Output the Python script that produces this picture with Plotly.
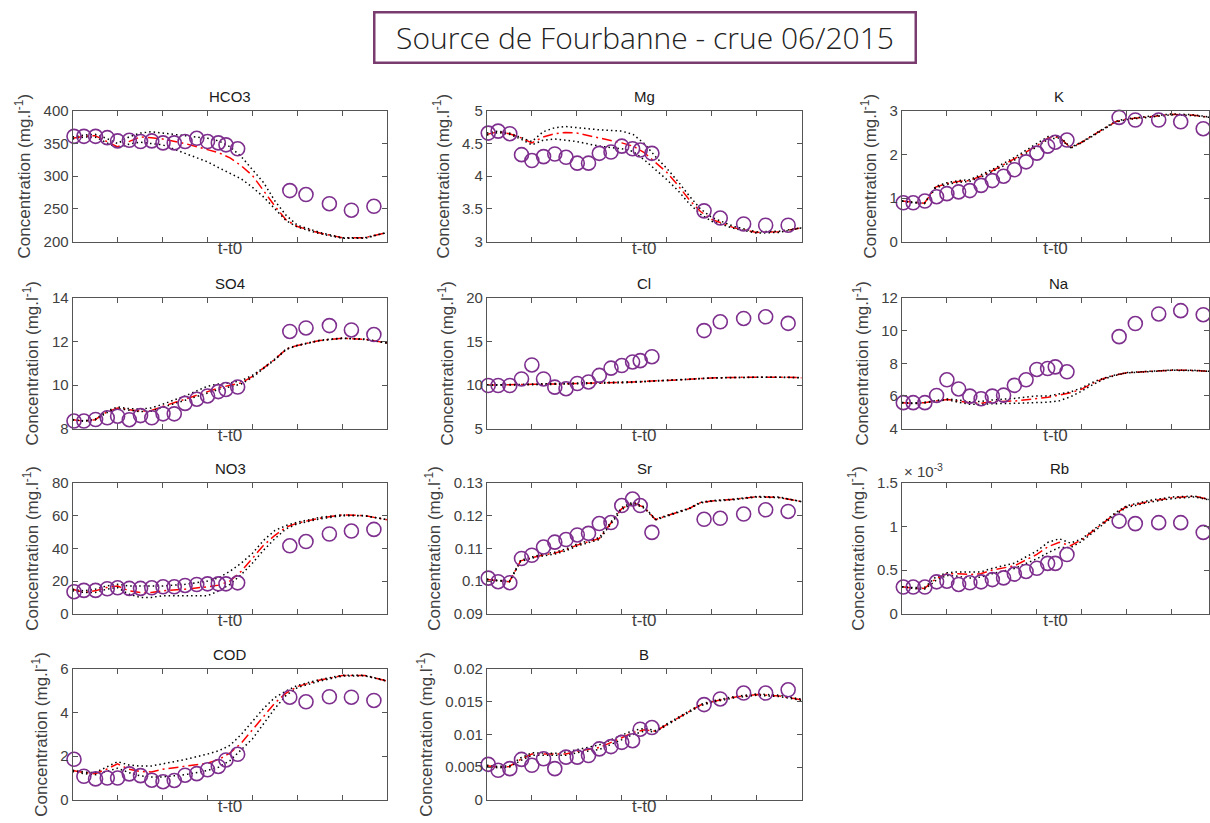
import plotly.graph_objects as go

W, H = 1210, 823

# ---------------- data ----------------
t_obs = [0.03, 0.25, 0.51, 0.77, 1.0, 1.26, 1.51, 1.76, 2.01, 2.26, 2.5, 2.76, 3.0, 3.24, 3.41, 3.67, 4.83, 5.19, 5.71, 6.2, 6.7]
t_mod = [0, 0.25, 0.5, 0.75, 1.0, 1.25, 1.5, 1.75, 2.0, 2.5, 3.0, 3.25, 3.5, 3.75, 4.0, 4.25, 4.5, 4.75, 5.0, 5.5, 6.0, 6.5, 7.0]

panel_names = ["HCO3", "Mg", "K", "SO4", "Cl", "Na", "NO3", "Sr", "Rb", "COD", "B"]

hco3_obs = [361, 361, 361, 359, 354, 355, 353, 354, 351, 351, 353, 358, 353, 351, 348, 342, 278, 272, 258, 248, 254]
hco3_mod = [358, 361, 362, 354, 345, 353, 360, 359, 357, 350, 341, 336, 328, 316, 301, 278, 254, 233, 223, 213, 206, 206, 214]
hco3_up = [360, 363, 364, 358, 350, 360, 366, 368, 366, 362, 358, 354, 345, 330, 310, 290, 262, 240, 225, 214, 206, 206, 214]
hco3_lo = [357, 360, 360, 352, 343, 349, 352, 350, 348, 335, 322, 313, 305, 296, 283, 268, 250, 232, 222, 212, 205, 205, 214]

mg_obs = [4.66, 4.69, 4.65, 4.33, 4.24, 4.30, 4.34, 4.29, 4.20, 4.20, 4.35, 4.37, 4.46, 4.42, 4.40, 4.35, 3.47, 3.36, 3.27, 3.25, 3.25]
mg_mod = [4.64, 4.68, 4.65, 4.59, 4.51, 4.60, 4.65, 4.67, 4.66, 4.59, 4.51, 4.46, 4.36, 4.21, 4.06, 3.86, 3.64, 3.46, 3.34, 3.21, 3.14, 3.15, 3.21]
mg_up = [4.66, 4.69, 4.66, 4.60, 4.53, 4.68, 4.74, 4.76, 4.74, 4.71, 4.69, 4.64, 4.50, 4.30, 4.12, 3.92, 3.70, 3.50, 3.37, 3.23, 3.15, 3.16, 3.21]
mg_lo = [4.63, 4.67, 4.64, 4.57, 4.48, 4.55, 4.57, 4.55, 4.53, 4.46, 4.42, 4.38, 4.25, 4.10, 3.95, 3.78, 3.58, 3.42, 3.31, 3.20, 3.13, 3.14, 3.21]

k_obs = [0.89, 0.89, 0.93, 1.03, 1.10, 1.14, 1.17, 1.29, 1.40, 1.50, 1.65, 1.83, 2.03, 2.19, 2.28, 2.33, 2.85, 2.79, 2.79, 2.75, 2.59]
k_mod = [0.93, 0.90, 0.88, 1.25, 1.33, 1.38, 1.40, 1.50, 1.62, 1.90, 2.20, 2.38, 2.40, 2.15, 2.28, 2.44, 2.60, 2.75, 2.81, 2.87, 2.92, 2.90, 2.83]
k_up = [0.93, 0.90, 0.88, 1.27, 1.35, 1.40, 1.42, 1.53, 1.65, 1.93, 2.24, 2.41, 2.42, 2.16, 2.29, 2.45, 2.61, 2.76, 2.82, 2.88, 2.93, 2.91, 2.83]
k_lo = [0.93, 0.89, 0.87, 1.23, 1.31, 1.36, 1.38, 1.48, 1.60, 1.87, 2.17, 2.35, 2.38, 2.14, 2.27, 2.43, 2.59, 2.74, 2.80, 2.86, 2.91, 2.89, 2.83]

so4_obs = [8.35, 8.35, 8.42, 8.50, 8.57, 8.41, 8.60, 8.50, 8.68, 8.68, 9.16, 9.35, 9.50, 9.70, 9.80, 9.91, 12.46, 12.62, 12.73, 12.53, 12.32]
so4_mod = [8.41, 8.35, 8.41, 8.75, 8.95, 8.87, 8.80, 8.83, 9.02, 9.35, 9.72, 9.87, 9.99, 10.10, 10.40, 10.77, 11.18, 11.65, 11.82, 12.05, 12.15, 12.10, 11.93]
so4_up = [8.42, 8.36, 8.43, 8.80, 9.00, 8.92, 8.90, 8.95, 9.12, 9.50, 9.95, 10.05, 10.10, 10.20, 10.45, 10.80, 11.20, 11.66, 11.83, 12.06, 12.16, 12.11, 11.93]
so4_lo = [8.40, 8.34, 8.40, 8.72, 8.92, 8.85, 8.78, 8.80, 8.98, 9.30, 9.65, 9.80, 9.92, 10.05, 10.36, 10.74, 11.16, 11.63, 11.81, 12.04, 12.14, 12.09, 11.93]

cl_obs = [9.95, 9.95, 9.95, 10.7, 12.31, 10.7, 9.76, 9.58, 10.18, 10.36, 11.11, 11.94, 12.24, 12.65, 12.80, 13.25, 16.25, 17.26, 17.64, 17.83, 17.08]
cl_mod = [10.0, 10.0, 10.02, 10.05, 10.08, 10.1, 10.12, 10.14, 10.17, 10.22, 10.3, 10.35, 10.4, 10.45, 10.5, 10.58, 10.66, 10.74, 10.82, 10.88, 10.92, 10.9, 10.85]
cl_up = [10.02, 10.02, 10.04, 10.08, 10.12, 10.14, 10.16, 10.18, 10.21, 10.26, 10.34, 10.39, 10.43, 10.48, 10.53, 10.61, 10.69, 10.76, 10.84, 10.89, 10.93, 10.91, 10.86]
cl_lo = [9.98, 9.98, 10.0, 10.02, 10.04, 10.06, 10.08, 10.1, 10.13, 10.18, 10.26, 10.31, 10.37, 10.42, 10.47, 10.55, 10.63, 10.72, 10.8, 10.87, 10.91, 10.89, 10.84]

na_obs = [5.59, 5.59, 5.59, 6.03, 6.99, 6.43, 5.99, 5.83, 5.99, 6.05, 6.65, 6.99, 7.62, 7.68, 7.78, 7.48, 9.63, 10.43, 11.02, 11.22, 10.97]
na_mod = [5.59, 5.55, 5.59, 5.69, 5.79, 5.69, 5.59, 5.55, 5.65, 5.69, 5.85, 5.92, 6.05, 6.20, 6.42, 6.79, 7.08, 7.28, 7.42, 7.52, 7.58, 7.56, 7.48]
na_up = [5.60, 5.57, 5.61, 5.72, 5.82, 5.75, 5.65, 5.66, 5.75, 5.85, 6.00, 6.00, 6.12, 6.25, 6.50, 6.85, 7.10, 7.29, 7.43, 7.53, 7.59, 7.57, 7.48]
na_lo = [5.58, 5.53, 5.57, 5.66, 5.77, 5.62, 5.50, 5.48, 5.52, 5.55, 5.60, 5.62, 5.70, 5.95, 6.30, 6.70, 7.04, 7.26, 7.41, 7.51, 7.57, 7.55, 7.48]

no3_obs = [13.5, 14.3, 14.3, 15.3, 15.9, 15.5, 15.5, 15.9, 16.5, 16.5, 17.3, 17.9, 18.3, 18.3, 18.3, 18.9, 41.6, 44.2, 48.8, 50.6, 51.6]
no3_mod = [15, 13, 14, 16, 17, 14, 13, 13, 14, 15, 16.5, 17.5, 20, 26, 34, 42, 48, 53, 55.5, 58.5, 60.5, 60, 57.5]
no3_up = [15, 14, 15, 17, 18, 17, 17, 17, 17, 18, 20, 22, 26, 31, 37, 45, 51, 54, 56, 59, 60.5, 60, 57.5]
no3_lo = [14, 13, 13, 15, 16, 12, 10, 10, 11, 11, 11, 14, 18, 24, 31, 39, 46, 52, 55, 58, 60, 60, 57.5]

sr_obs = [0.1009, 0.0998, 0.0995, 0.1069, 0.1079, 0.1104, 0.1119, 0.1127, 0.1141, 0.1146, 0.1176, 0.1179, 0.1231, 0.1251, 0.1231, 0.1149, 0.1189, 0.1192, 0.1205, 0.1218, 0.1213]
sr_mod = [0.1005, 0.1002, 0.0998, 0.1062, 0.1072, 0.1080, 0.1085, 0.1095, 0.1110, 0.1130, 0.1222, 0.1240, 0.1225, 0.1188, 0.1200, 0.1210, 0.1222, 0.1240, 0.1245, 0.1250, 0.1258, 0.1256, 0.1243]
sr_up = [0.1006, 0.1003, 0.0999, 0.1064, 0.1074, 0.1083, 0.1088, 0.1098, 0.1113, 0.1133, 0.1225, 0.1242, 0.1227, 0.1189, 0.1201, 0.1211, 0.1223, 0.1241, 0.1246, 0.1251, 0.1259, 0.1257, 0.1243]
sr_lo = [0.1004, 0.1001, 0.0997, 0.1060, 0.1070, 0.1077, 0.1082, 0.1092, 0.1107, 0.1127, 0.1219, 0.1238, 0.1223, 0.1187, 0.1199, 0.1209, 0.1221, 0.1239, 0.1244, 0.1249, 0.1257, 0.1255, 0.1243]

rb_obs = [0.306e-3, 0.306e-3, 0.306e-3, 0.366e-3, 0.373e-3, 0.336e-3, 0.355e-3, 0.366e-3, 0.392e-3, 0.411e-3, 0.455e-3, 0.485e-3, 0.522e-3, 0.578e-3, 0.578e-3, 0.679e-3, 1.063e-3, 1.034e-3, 1.045e-3, 1.045e-3, 0.933e-3]
rb_mod = [0.31e-3, 0.295e-3, 0.29e-3, 0.40e-3, 0.46e-3, 0.46e-3, 0.45e-3, 0.46e-3, 0.50e-3, 0.55e-3, 0.68e-3, 0.77e-3, 0.82e-3, 0.78e-3, 0.85e-3, 0.95e-3, 1.05e-3, 1.15e-3, 1.23e-3, 1.29e-3, 1.33e-3, 1.35e-3, 1.29e-3]
rb_up = [0.31e-3, 0.30e-3, 0.30e-3, 0.42e-3, 0.47e-3, 0.48e-3, 0.48e-3, 0.48e-3, 0.52e-3, 0.58e-3, 0.72e-3, 0.82e-3, 0.86e-3, 0.81e-3, 0.86e-3, 0.96e-3, 1.06e-3, 1.16e-3, 1.24e-3, 1.30e-3, 1.34e-3, 1.35e-3, 1.29e-3]
rb_lo = [0.31e-3, 0.29e-3, 0.28e-3, 0.38e-3, 0.44e-3, 0.43e-3, 0.41e-3, 0.42e-3, 0.46e-3, 0.52e-3, 0.63e-3, 0.70e-3, 0.76e-3, 0.76e-3, 0.83e-3, 0.93e-3, 1.04e-3, 1.14e-3, 1.22e-3, 1.28e-3, 1.32e-3, 1.34e-3, 1.29e-3]

cod_obs = [1.86, 1.08, 0.96, 1.0, 1.0, 1.19, 1.11, 0.9, 0.83, 0.89, 1.13, 1.2, 1.38, 1.53, 1.83, 2.09, 4.71, 4.50, 4.73, 4.71, 4.56]
cod_mod = [1.35, 1.25, 1.2, 1.4, 1.65, 1.4, 1.3, 1.28, 1.4, 1.55, 1.68, 1.85, 2.15, 2.6, 3.2, 3.85, 4.45, 4.9, 5.2, 5.5, 5.7, 5.7, 5.45]
cod_up = [1.36, 1.27, 1.25, 1.5, 1.75, 1.6, 1.55, 1.55, 1.65, 1.85, 2.1, 2.25, 2.5, 3.0, 3.6, 4.2, 4.7, 5.0, 5.25, 5.52, 5.72, 5.71, 5.46]
cod_lo = [1.3, 1.2, 1.15, 1.3, 1.45, 1.25, 1.1, 1.05, 1.05, 1.15, 1.35, 1.5, 1.8, 2.3, 2.8, 3.5, 4.2, 4.8, 5.15, 5.45, 5.68, 5.69, 5.44]

b_obs = [0.00543, 0.00452, 0.00477, 0.00618, 0.00528, 0.00628, 0.00477, 0.00653, 0.00653, 0.00678, 0.00779, 0.00814, 0.00879, 0.00904, 0.0108, 0.01106, 0.01457, 0.01543, 0.01633, 0.01633, 0.01683]
b_mod = [0.0052, 0.0050, 0.0051, 0.0062, 0.0070, 0.0070, 0.0069, 0.0070, 0.0074, 0.0080, 0.0095, 0.0103, 0.0107, 0.0105, 0.0115, 0.0125, 0.0135, 0.0145, 0.0150, 0.0157, 0.0161, 0.0159, 0.0153]
b_up = [0.0053, 0.0051, 0.0052, 0.0064, 0.0072, 0.0072, 0.0071, 0.0073, 0.0077, 0.0084, 0.0099, 0.0106, 0.0109, 0.0106, 0.0116, 0.0126, 0.0136, 0.0146, 0.0151, 0.0158, 0.0162, 0.0160, 0.0154]
b_lo = [0.0051, 0.0049, 0.0050, 0.0060, 0.0068, 0.0068, 0.0067, 0.0068, 0.0072, 0.0077, 0.0092, 0.0100, 0.0105, 0.0104, 0.0114, 0.0124, 0.0134, 0.0144, 0.0149, 0.0156, 0.0160, 0.0158, 0.0152]

# y-axis ranges, tick values and tick labels
y_ranges = [[200, 400], [3, 5], [0, 3], [8, 14], [5, 20], [4, 12], [0, 80], [0.09, 0.13], [0, 1.5e-3], [0, 6], [0, 0.02]]
y_tickvals = [
    [200, 250, 300, 350, 400], [3, 3.5, 4, 4.5, 5], [0, 1, 2, 3], [8, 10, 12, 14], [5, 10, 15, 20],
    [4, 6, 8, 10, 12], [0, 20, 40, 60, 80], [0.09, 0.1, 0.11, 0.12, 0.13], [0, 0.5e-3, 1e-3, 1.5e-3],
    [0, 2, 4, 6], [0, 0.005, 0.01, 0.015, 0.02]]
y_ticktext = [
    ["200", "250", "300", "350", "400"], ["3", "3.5", "4", "4.5", "5"], ["0", "1", "2", "3"], ["8", "10", "12", "14"],
    ["5", "10", "15", "20"], ["4", "6", "8", "10", "12"], ["0", "20", "40", "60", "80"],
    ["0.09", "0.1", "0.11", "0.12", "0.13"], ["0", "0.5", "1", "1.5"], ["0", "2", "4", "6"],
    ["0", "0.005", "0.01", "0.015", "0.02"]]
x_tickvals = [1, 2, 3, 4, 5, 6]

series = [
    (hco3_obs, hco3_mod, hco3_up, hco3_lo), (mg_obs, mg_mod, mg_up, mg_lo), (k_obs, k_mod, k_up, k_lo),
    (so4_obs, so4_mod, so4_up, so4_lo), (cl_obs, cl_mod, cl_up, cl_lo), (na_obs, na_mod, na_up, na_lo),
    (no3_obs, no3_mod, no3_up, no3_lo), (sr_obs, sr_mod, sr_up, sr_lo), (rb_obs, rb_mod, rb_up, rb_lo),
    (cod_obs, cod_mod, cod_up, cod_lo), (b_obs, b_mod, b_up, b_lo)]

# ---------------- layout geometry (px) ----------------
col_left = [72.7, 487.3, 902.7]
panel_w = 315.0
row_top = [104, 295, 484, 674]
panel_h = 133.5

FONT = "Liberation Sans, Arial, Helvetica, sans-serif"
AXC = "#555555"
TXC = "#404040"
PURPLE = "#7E2F8E"

fig = go.Figure()
layout = dict(
    width=W, height=H, autosize=False,
    margin=dict(l=0, r=0, t=0, b=0),
    paper_bgcolor="white", plot_bgcolor="white",
    showlegend=False,
    font=dict(family=FONT, color=TXC, size=15),
)
annotations = []

for i, name in enumerate(panel_names):
    r, c = divmod(i, 3)
    x0 = col_left[c]
    x1 = x0 + panel_w
    xmax = 7.0
    if x1 > W:
        xmax = 7.0 * (W - x0) / panel_w
        x1 = W
    y0 = row_top[r]
    y1 = y0 + panel_h
    xd = [x0 / W, x1 / W]
    yd = [1 - y1 / H, 1 - y0 / H]
    k = "" if i == 0 else str(i + 1)
    xa, ya = "x" + k, "y" + k

    layout["xaxis" + k] = dict(
        domain=xd, range=[0, xmax], anchor=ya, tickvals=x_tickvals, showticklabels=False,
        ticks="inside", ticklen=5, tickcolor=AXC, tickwidth=1,
        showline=True, linecolor=AXC, linewidth=1, mirror="ticks",
        showgrid=False, zeroline=False,
        title=dict(text="t-t0", font=dict(size=17, color=TXC), standoff=0),
    )
    layout["yaxis" + k] = dict(
        domain=yd, range=y_ranges[i], anchor=xa,
        tickvals=y_tickvals[i], ticktext=y_ticktext[i],
        ticks="inside", ticklen=5, tickcolor=AXC, tickwidth=1,
        showline=True, linecolor=AXC, linewidth=1, mirror="ticks",
        showgrid=False, zeroline=False,
        tickfont=dict(size=15, color=TXC),
        title=dict(text="Concentration (mg.l<sup>-1</sup>)", font=dict(size=17, color=TXC), standoff=8),
    )

    obs, mod, up, lo = series[i]
    fig.add_trace(go.Scatter(x=t_mod, y=mod, mode="lines", xaxis=xa, yaxis=ya,
                             line=dict(color="#FF0000", width=1.5, dash="10px,4px,2px,4px")))
    fig.add_trace(go.Scatter(x=t_mod, y=up, mode="lines", xaxis=xa, yaxis=ya,
                             line=dict(color="black", width=1.5, dash="1.5px,3px")))
    fig.add_trace(go.Scatter(x=t_mod, y=lo, mode="lines", xaxis=xa, yaxis=ya,
                             line=dict(color="black", width=1.5, dash="1.5px,3px")))
    fig.add_trace(go.Scatter(x=t_obs, y=obs, mode="markers", xaxis=xa, yaxis=ya, cliponaxis=False,
                             marker=dict(symbol="circle-open", size=14, color=PURPLE,
                                         line=dict(color=PURPLE, width=1.6))))

    annotations.append(dict(
        text=name, xref="paper", yref="paper",
        x=(col_left[c] + panel_w / 2) / W, y=1 - (y0 - 15) / H,
        xanchor="center", yanchor="middle", showarrow=False,
        font=dict(family=FONT, size=15, color="#1a1a1a")))
    if name == "Rb":
        annotations.append(dict(
            text="\u00d7 10<sup>-3</sup>", xref="paper", yref="paper",
            x=x0 / W, y=1 - (y0 - 1) / H, xanchor="left", yanchor="bottom", showarrow=False,
            font=dict(family=FONT, size=15, color=TXC)))

annotations.append(dict(
    text="Source de Fourbanne - crue 06/2015", xref="paper", yref="paper",
    x=645.5 / W, y=1 - 29 / H, xanchor="center", yanchor="middle", showarrow=False,
    font=dict(family="Open Sans, sans-serif", size=30, color="#222222", weight=300),
    bordercolor="#7A3B6F", borderwidth=2.5, borderpad=2, width=535, height=44,
    bgcolor="white"))

layout["annotations"] = annotations
fig.update_layout(**layout)
fig.write_html(
    "out.html",
    config={"displayModeBar": False},
    post_script="document.body.style.margin='0';document.body.style.overflow='hidden';",
)
